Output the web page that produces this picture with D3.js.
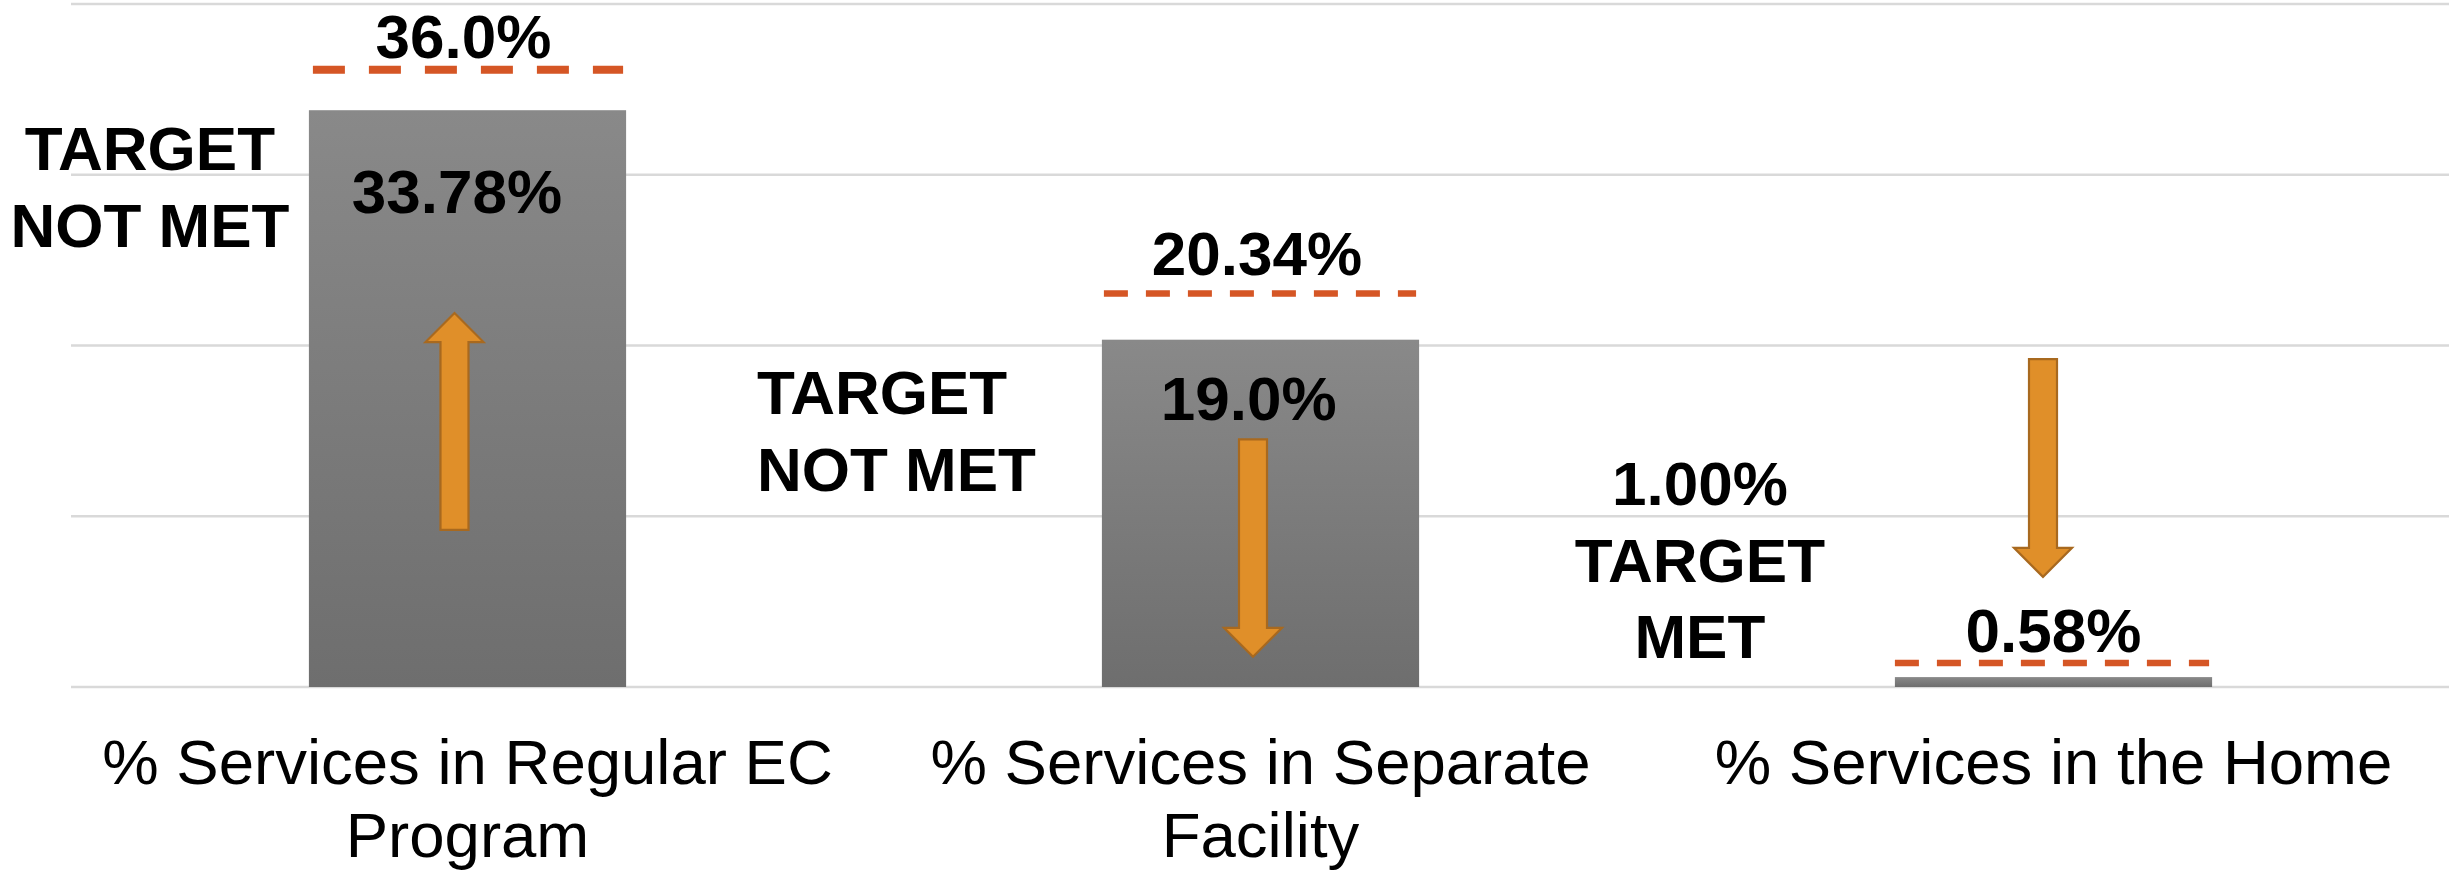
<!DOCTYPE html>
<html lang="en">
  <head>
    <meta charset="UTF-8" />
    <title>Services by setting</title>
    <script src="https://cdn.jsdelivr.net/npm/d3@7"></script>
    <style>
      body {
        margin: 0;
        background-color: #fff;
      }
      svg {
        display: block;
        font-family: "Liberation Sans", Arial, sans-serif;
      }
    </style>
  </head>
  <body>
    <script>
      // data
      const categories = [
        "% Services in Regular EC Program",
        "% Services in Separate Facility",
        "% Services in the Home"
      ];
      const barValues = [33.78, 20.34, 0.58];
      const barLabels = ["33.78%", "19.0%", ""];
      const markValues = [36.15, 23.05, 1.4];
      const markLabels = ["36.0%", "20.34%", "0.58%"];
      const statusLabels = [
        ["TARGET", "NOT MET"],
        ["TARGET", "NOT MET"],
        ["1.00%", "TARGET", "MET"]
      ];
      const arrowFrom = [9.2, 14.5, 19.2];
      const arrowTo = [21.9, 1.77, 6.45];
      const yTicks = [0, 10, 20, 30, 40];

      // layout tweaks per category (offsets from the bar, in px)
      const layout = [
        { markDx: -4, markDy: -11.5, markW: 8, markDash: "32 24", markInset: 4,
          innerDx: -10.5, innerDy: 103, statusX: -159, statusAnchor: "middle", statusY: 170,
          arrowDx: -13 },
        { markDx: -3.5, markDy: -18.4, markW: 6.5, markDash: "24 18", markInset: 2,
          innerDx: -11.8, innerDy: 80.3, statusX: -345, statusAnchor: "start", statusY: 414,
          arrowDx: -7.5 },
        { markDx: 0, markDy: -11.5, markW: 6.5, markDash: "24 18", markInset: 0,
          innerDx: 0, innerDy: 0, statusX: -195, statusAnchor: "middle", statusY: 505,
          arrowDx: -10.5 }
      ];

      const width = 2461;
      const height = 870;
      const plotLeft = 71;
      const plotRight = 2450;
      const plotBottom = 687;
      const plotTop = 4;
      const boldSize = 62;
      const lineStep = 76.7;

      const x = d3
        .scaleBand()
        .domain(categories)
        .range([plotLeft, plotRight])
        .paddingInner(0.6)
        .paddingOuter(0.3);

      const y = d3.scaleLinear().domain([0, 40]).range([plotBottom, plotTop]);

      const svg = d3
        .select("body")
        .append("svg")
        .attr("width", width)
        .attr("height", height);

      const grad = svg
        .append("defs")
        .append("linearGradient")
        .attr("id", "barGrad")
        .attr("x1", 0)
        .attr("y1", 0)
        .attr("x2", 0)
        .attr("y2", 1);
      grad.append("stop").attr("offset", "0%").attr("stop-color", "#898989");
      grad.append("stop").attr("offset", "100%").attr("stop-color", "#6e6e6e");

      // gridlines
      svg
        .append("g")
        .selectAll("line")
        .data(yTicks)
        .enter()
        .append("line")
        .attr("x1", plotLeft)
        .attr("x2", plotRight - 1)
        .attr("y1", d => y(d))
        .attr("y2", d => y(d))
        .attr("stroke", "#d9d9d9")
        .attr("stroke-width", 2.5);

      const rows = categories.map((c, i) => ({
        cat: c,
        value: barValues[i],
        label: barLabels[i],
        mark: markValues[i],
        markLabel: markLabels[i],
        status: statusLabels[i],
        from: arrowFrom[i],
        to: arrowTo[i],
        lay: layout[i]
      }));

      const bw = x.bandwidth();
      const cx = d => x(d.cat) + bw / 2;

      // bars
      svg
        .append("g")
        .selectAll("rect")
        .data(rows)
        .enter()
        .append("rect")
        .attr("x", d => x(d.cat))
        .attr("y", d => y(d.value))
        .attr("width", bw)
        .attr("height", d => y(0) - y(d.value))
        .attr("fill", "url(#barGrad)");

      // dashed target lines
      svg
        .append("g")
        .selectAll("line")
        .data(rows)
        .enter()
        .append("line")
        .attr("x1", d => x(d.cat) + d.lay.markInset)
        .attr("x2", d => x(d.cat) + bw - 3)
        .attr("y1", d => y(d.mark))
        .attr("y2", d => y(d.mark))
        .attr("stroke", "#d55625")
        .attr("stroke-width", d => d.lay.markW)
        .attr("stroke-dasharray", d => d.lay.markDash);

      // arrows
      const head = 29;
      const shaft = 14;
      const wing = 29;
      svg
        .append("g")
        .selectAll("path")
        .data(rows)
        .enter()
        .append("path")
        .attr("d", d => {
          const ax = cx(d) + d.lay.arrowDx;
          const y0 = y(d.from);
          const y1 = y(d.to);
          const dir = y1 > y0 ? 1 : -1;
          const yb = y1 - dir * head;
          return (
            "M" + (ax - shaft) + "," + y0 +
            "L" + (ax - shaft) + "," + yb +
            "L" + (ax - wing) + "," + yb +
            "L" + ax + "," + y1 +
            "L" + (ax + wing) + "," + yb +
            "L" + (ax + shaft) + "," + yb +
            "L" + (ax + shaft) + "," + y0 + "Z"
          );
        })
        .attr("fill", "#e08f29")
        .attr("stroke", "#a8691f")
        .attr("stroke-width", 2.2)
        .attr("stroke-linejoin", "miter");

      // labels above the dashed lines
      svg
        .append("g")
        .selectAll("text")
        .data(rows)
        .enter()
        .append("text")
        .attr("x", d => cx(d) + d.lay.markDx)
        .attr("y", d => y(d.mark) + d.lay.markDy)
        .attr("text-anchor", "middle")
        .style("font-size", boldSize + "px")
        .style("font-weight", "bold")
        .text(d => d.markLabel);

      // labels inside the bars
      svg
        .append("g")
        .selectAll("text")
        .data(rows.filter(d => d.label))
        .enter()
        .append("text")
        .attr("x", d => cx(d) + d.lay.innerDx)
        .attr("y", d => y(d.value) + d.lay.innerDy)
        .attr("text-anchor", "middle")
        .style("font-size", boldSize + "px")
        .style("font-weight", "bold")
        .text(d => d.label);

      // target status notes
      const status = svg
        .append("g")
        .selectAll("text")
        .data(rows)
        .enter()
        .append("text")
        .attr("text-anchor", d => d.lay.statusAnchor)
        .style("font-size", boldSize + "px")
        .style("font-weight", "bold");
      status
        .selectAll("tspan")
        .data(d => d.status.map((s, j) => ({ s, j, d })))
        .enter()
        .append("tspan")
        .attr("x", t => x(t.d.cat) + t.d.lay.statusX)
        .attr("y", t => t.d.lay.statusY + t.j * lineStep)
        .text(t => t.s);

      // category labels, wrapped
      const catText = svg
        .append("g")
        .selectAll("text")
        .data(rows)
        .enter()
        .append("text")
        .attr("text-anchor", "middle")
        .style("font-size", "63.5px")
        .attr("fill", "#000");

      catText.each(function (d) {
        const t = d3.select(this);
        const words = d.cat.split(" ");
        const maxW = 780;
        let line = [];
        let n = 0;
        let span = t.append("tspan").attr("x", cx(d)).attr("y", 783.5);
        words.forEach(w => {
          line.push(w);
          span.text(line.join(" "));
          if (span.node().getComputedTextLength() > maxW && line.length > 1) {
            line.pop();
            span.text(line.join(" "));
            line = [w];
            n++;
            span = t
              .append("tspan")
              .attr("x", cx(d))
              .attr("y", 783.5 + n * 73.5)
              .text(w);
          }
        });
      });
    </script>
  </body>
</html>
